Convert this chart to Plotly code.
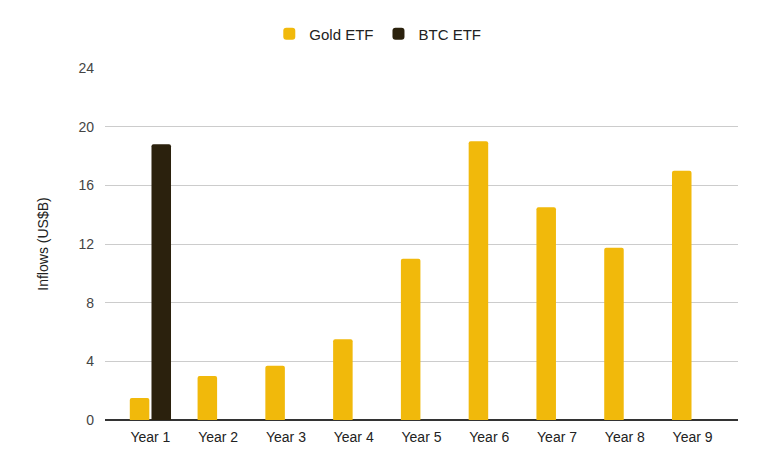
import plotly.graph_objects as go

categories = ["Year 1", "Year 2", "Year 3", "Year 4", "Year 5", "Year 6", "Year 7", "Year 8", "Year 9"]
gold_etf = [1.5, 3.0, 3.7, 5.5, 11.0, 19.0, 14.5, 11.75, 17.0]
btc_etf = [18.8, None, None, None, None, None, None, None, None]
y_ticks = [0, 4, 8, 12, 16, 20, 24]

fig = go.Figure()
fig.add_trace(go.Bar(x=categories, y=gold_etf, name="Gold ETF",
                     marker=dict(color="#F1B90B", cornerradius=2, line=dict(width=0))))
fig.add_trace(go.Bar(x=categories, y=btc_etf, name="BTC ETF",
                     marker=dict(color="#2B210D", cornerradius=2, line=dict(width=0))))

fig.update_layout(
    width=771, height=460,
    margin=dict(l=105, r=33, t=68, b=40),
    paper_bgcolor="white", plot_bgcolor="white",
    barmode="group", bargap=0.36, bargroupgap=0.1,
    font=dict(family="Liberation Sans, Arial, sans-serif", size=14, color="#222"),
    legend=dict(orientation="h", xref="container", yref="container", x=0.49, y=0.926,
                xanchor="center", yanchor="middle", font=dict(size=15, color="#222"),
                itemwidth=30, tracegroupgap=0),
    showlegend=True,
)
fig.update_xaxes(range=[-0.67, 8.67], showgrid=False, showline=False, ticks="",
                 ticklabelstandoff=7, automargin=False,
                 tickfont=dict(size=14, color="#222"), fixedrange=True)
fig.update_yaxes(range=[0, 24], tickvals=y_ticks, showgrid=True, gridcolor="#cccccc",
                 gridwidth=1, zeroline=True, zerolinecolor="#333333", zerolinewidth=1.5,
                 ticks="", ticklabelstandoff=10, tickfont=dict(size=14, color="#444"),
                 automargin=False,
                 title=dict(text="Inflows (US$B)", font=dict(size=14, color="#222"), standoff=26),
                 fixedrange=True)

fig.write_html("out.html")
